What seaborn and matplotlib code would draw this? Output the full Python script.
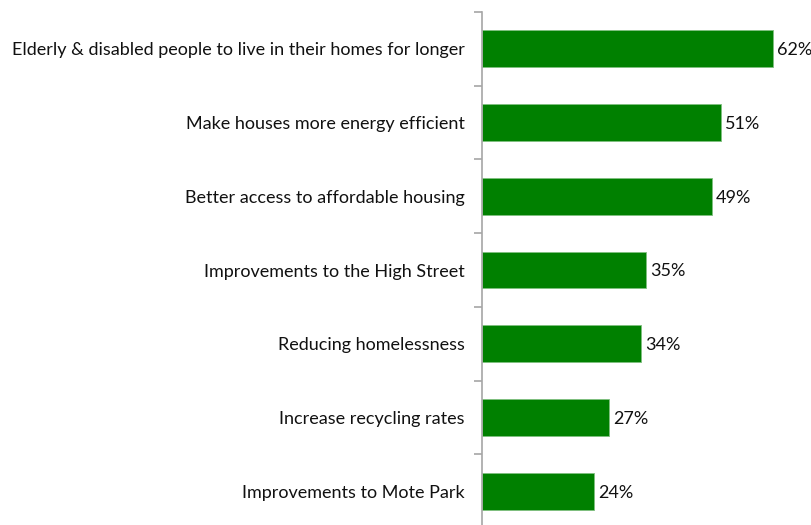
import matplotlib
matplotlib.use("Agg")
import matplotlib.pyplot as plt
import seaborn as sns
import pandas as pd
import numpy as np

categories = [
    "Elderly & disabled people to live in their homes for longer",
    "Make houses more energy efficient",
    "Better access to affordable housing",
    "Improvements to the High Street",
    "Reducing homelessness",
    "Increase recycling rates",
    "Improvements to Mote Park",
]
values = [62, 51, 49, 35, 34, 27, 24]

df = pd.DataFrame({"category": categories, "value": values})

sns.set_theme(style="white")
plt.rcParams["font.family"] = ["Lato", "DejaVu Sans"]

fig = plt.figure(figsize=(8.12, 5.25), dpi=100)
ax = fig.add_axes([482 / 812, -3 / 525, 328 / 812, 516 / 525])

sns.barplot(data=df, x="value", y="category", orient="h", color="#008000",
            saturation=1, width=0.5, edgecolor="#7fbf7f", linewidth=0.6, ax=ax)

ax.set_xlim(0, 70)
ax.set_ylim(len(categories) - 0.5, -0.5)
ax.set_xlabel("")
ax.set_ylabel("")
ax.set_xticks([])

for i, v in enumerate(values):
    ax.text(v + 0.9, i + 0.02, f"{v}%", va="center", ha="left", fontsize=13, color="#111111")

for s in ["top", "right", "bottom"]:
    ax.spines[s].set_visible(False)
ax.spines["left"].set_color("#a6a6a6")
ax.spines["left"].set_linewidth(1.2)

ax.tick_params(axis="y", which="major", left=True, length=0, pad=12.5,
               labelsize=13, labelcolor="#111111")
ax.set_yticks(np.arange(-0.5, len(categories) + 0.5, 1.0), minor=True)
ax.tick_params(axis="y", which="minor", left=True, length=6, width=1.2,
               color="#a6a6a6", direction="out")

fig.savefig("out.png", dpi=100, facecolor="white")
